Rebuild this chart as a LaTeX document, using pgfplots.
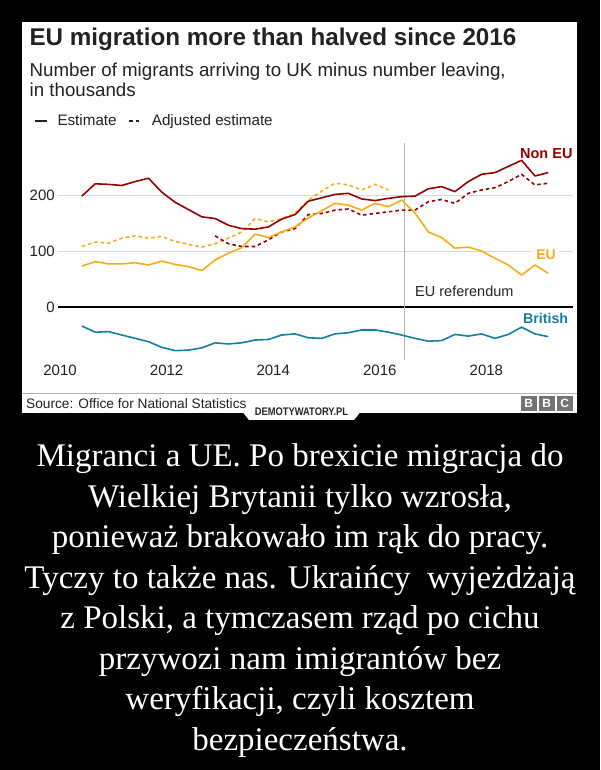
\documentclass[border=0pt]{standalone}
\usepackage{fontspec}
\setmainfont{Liberation Sans}
\newfontfamily\capfont{Liberation Serif}
\usepackage{pgfplots}
\pgfplotsset{compat=1.18}
\usepackage{pgfplotstable}
\definecolor{noneu}{HTML}{990000}
\definecolor{eu}{HTML}{FAAB18}
\definecolor{brit}{HTML}{1380A1}
\definecolor{txt}{HTML}{222222}

\pgfplotstableread{
x noneu eu brit
2010.41 198 73 -34
2010.66 220 81 -45
2010.91 219 77 -44
2011.16 217 77 -50
2011.41 224 79 -56
2011.66 230 75 -62
2011.91 205 82 -72
2012.16 187 76 -78
2012.41 174 72 -77
2012.66 161 65 -73
2012.91 158 84 -64
2013.16 146 96 -66
2013.41 140 106 -64
2013.66 139 130 -59
2013.91 143 124 -58
2014.16 157 134 -50
2014.41 165 143 -48
2014.66 189 159 -55
2014.91 195 172 -56
2015.16 201 185 -48
2015.41 203 182 -46
2015.66 193 173 -41
2015.91 190 185 -41
2016.16 194 179 -45
2016.41 197 191 -50
2016.66 198 168 -56
2016.91 211 134 -61
2017.16 215 124 -60
2017.41 206 105 -49
2017.66 224 107 -52
2017.91 237 100 -48
2018.16 240 87 -56
2018.41 251 75 -49
2018.66 262 57 -36
2018.91 234 75 -48
2019.16 240 60 -53
}\maintab

\pgfplotstableread{
x y
2010.41 108
2010.66 116
2010.91 114
2011.16 123
2011.41 127
2011.66 123
2011.91 126
2012.16 117
2012.41 112
2012.66 107
2012.91 113
2013.16 123
2013.41 134
2013.66 158
2013.91 152
2014.16 158
2014.41 167
2014.66 191
2014.91 207
2015.16 221
2015.41 218
2015.66 209
2015.91 219
2016.16 209
}\euadj

\pgfplotstableread{
x y
2012.91 127
2013.16 113
2013.41 108
2013.66 108
2013.91 120
2014.16 134
2014.41 140
2014.66 165
2014.91 167
2015.16 173
2015.41 175
2015.66 164
2015.91 167
2016.16 170
2016.41 173
2016.66 173
2016.91 188
2017.16 192
2017.41 185
2017.66 203
2017.91 209
2018.16 213
2018.41 224
2018.66 237
2018.91 218
2019.16 221
}\noneuadj

\begin{document}
\begin{tikzpicture}
\fill[black] (0pt,0pt) rectangle (600pt,770pt);
\useasboundingbox (0pt,0pt) rectangle (600pt,770pt);
% white panel
\fill[white] (22pt,357pt) rectangle (577pt,748pt);
% header
\node[anchor=base west, inner sep=0, font=\bfseries\fontsize{24.2}{28}\selectfont, text=txt] at (29.3pt,724pt) {EU migration more than halved since 2016};
\node[anchor=base west, inner sep=0, font=\fontsize{18.7}{21}\selectfont, text=txt] at (29.5pt,693.3pt) {Number of migrants arriving to UK minus number leaving,};
\node[anchor=base west, inner sep=0, font=\fontsize{18.7}{21}\selectfont, text=txt] at (29.5pt,673pt) {in thousands};
\draw[txt, line width=2pt] (35pt,649pt) -- (46.7pt,649pt);
\node[anchor=base west, inner sep=0, font=\fontsize{15.2}{18}\selectfont, text=txt] at (57.3pt,644pt) {Estimate};
\draw[txt, line width=2pt] (129.3pt,649pt) -- (133.2pt,649pt);
\draw[txt, line width=2pt] (135.6pt,649pt) -- (139.3pt,649pt);
\node[anchor=base west, inner sep=0, font=\fontsize{15.2}{18}\selectfont, text=txt] at (151.7pt,644pt) {Adjusted estimate};

\begin{axis}[
  at={(58.3pt,409.8pt)}, anchor=south west,
  scale only axis, width=514.4pt, height=216.7pt,
  xmin=2009.968, xmax=2019.619, ymin=-95, ymax=292,
  axis line style={draw=none},
  major tick length=0pt,
  xtick={2010,2012,2014,2016,2018},
  ytick={100,200},
  extra y ticks={0},
  extra y tick style={grid=major, major grid style={black, line width=1.3pt}},
  ymajorgrids,
  major grid style={black!15, line width=0.9pt},
  /pgf/number format/assume math mode=true,
  xticklabel style={/pgf/number format/1000 sep={}, font=\fontsize{15}{18}\selectfont, text=txt, yshift=-1.5pt},
  yticklabel style={font=\fontsize{15}{18}\selectfont, text=txt},
  no markers,
  clip=false,
  every axis plot/.append style={line join=round},
]
\addplot[black!30, line width=0.9pt] coordinates {(2016.47,-95) (2016.47,292)};
\addplot[eu, line width=1.6pt, dash pattern=on 3.5pt off 3pt] table[x=x,y=y]{\euadj};
\addplot[noneu, line width=1.6pt, dash pattern=on 3.5pt off 3pt] table[x=x,y=y]{\noneuadj};
\addplot[brit, line width=1.6pt] table[x=x,y=brit]{\maintab};
\addplot[eu, line width=1.6pt] table[x=x,y=eu]{\maintab};
\addplot[noneu, line width=1.6pt] table[x=x,y=noneu]{\maintab};
\end{axis}

% series labels
\node[anchor=base east, inner sep=0, font=\bfseries\fontsize{14.5}{16}\selectfont, text=noneu] at (572.7pt,611pt) {Non EU};
\node[anchor=base east, fill=white, inner xsep=3pt, inner ysep=2pt, font=\bfseries\fontsize{14}{16}\selectfont, text=eu] at (559pt,510pt) {EU};
\node[anchor=base east, inner sep=0, font=\bfseries\fontsize{14.2}{16}\selectfont, text=brit] at (568.3pt,446.7pt) {British};
\node[anchor=base west, inner sep=0, font=\fontsize{14.5}{16}\selectfont, text=txt] at (415pt,473.5pt) {EU referendum};

% footer
\draw[black!30, line width=1pt] (22pt,376pt) -- (577pt,376pt);
\node[anchor=base west, inner sep=0, font=\fontsize{13.7}{16}\selectfont, text=txt] at (26pt,361pt) {Source: Office for National Statistics};
\foreach \bx/\bl in {521/B,539/B,557/C}{
  \fill[black!55] (\bx pt,359pt) rectangle ++(15.5pt,14.5pt);
  \node[text=white, font=\bfseries\fontsize{12}{13}\selectfont, inner sep=0] at (\bx pt+7.75pt,366.25pt) {\bl};
}
\fill[white] (243pt,357.5pt) -- (360pt,357.5pt) -- (354pt,350pt) -- (249pt,350pt) -- cycle;
\node[anchor=base, inner sep=0, font=\bfseries\fontsize{11}{12}\selectfont, text=black!85] at (301.5pt,354pt) {\scalebox{0.85}[1]{DEMOTYWATORY.PL}};

% caption
\begin{scope}[every node/.style={anchor=base, inner sep=0, text=white, font=\capfont\fontsize{33}{40}\selectfont}]
\node at (300pt,303pt) {Migranci a UE. Po brexicie migracja do};
\node at (300pt,262.5pt) {Wielkiej Brytanii tylko wzrosła,};
\node at (300pt,222pt) {ponieważ brakowało im rąk do pracy.};
\node at (300pt,181.5pt) {Tyczy to także nas. Ukraińcy\ \ wyjeżdżają};
\node at (300pt,141pt) {z Polski, a tymczasem rząd po cichu};
\node at (300pt,100.5pt) {przywozi nam imigrantów bez};
\node at (300pt,60pt) {weryfikacji, czyli kosztem};
\node at (300pt,19.5pt) {bezpieczeństwa.};
\end{scope}
\end{tikzpicture}
\end{document}
